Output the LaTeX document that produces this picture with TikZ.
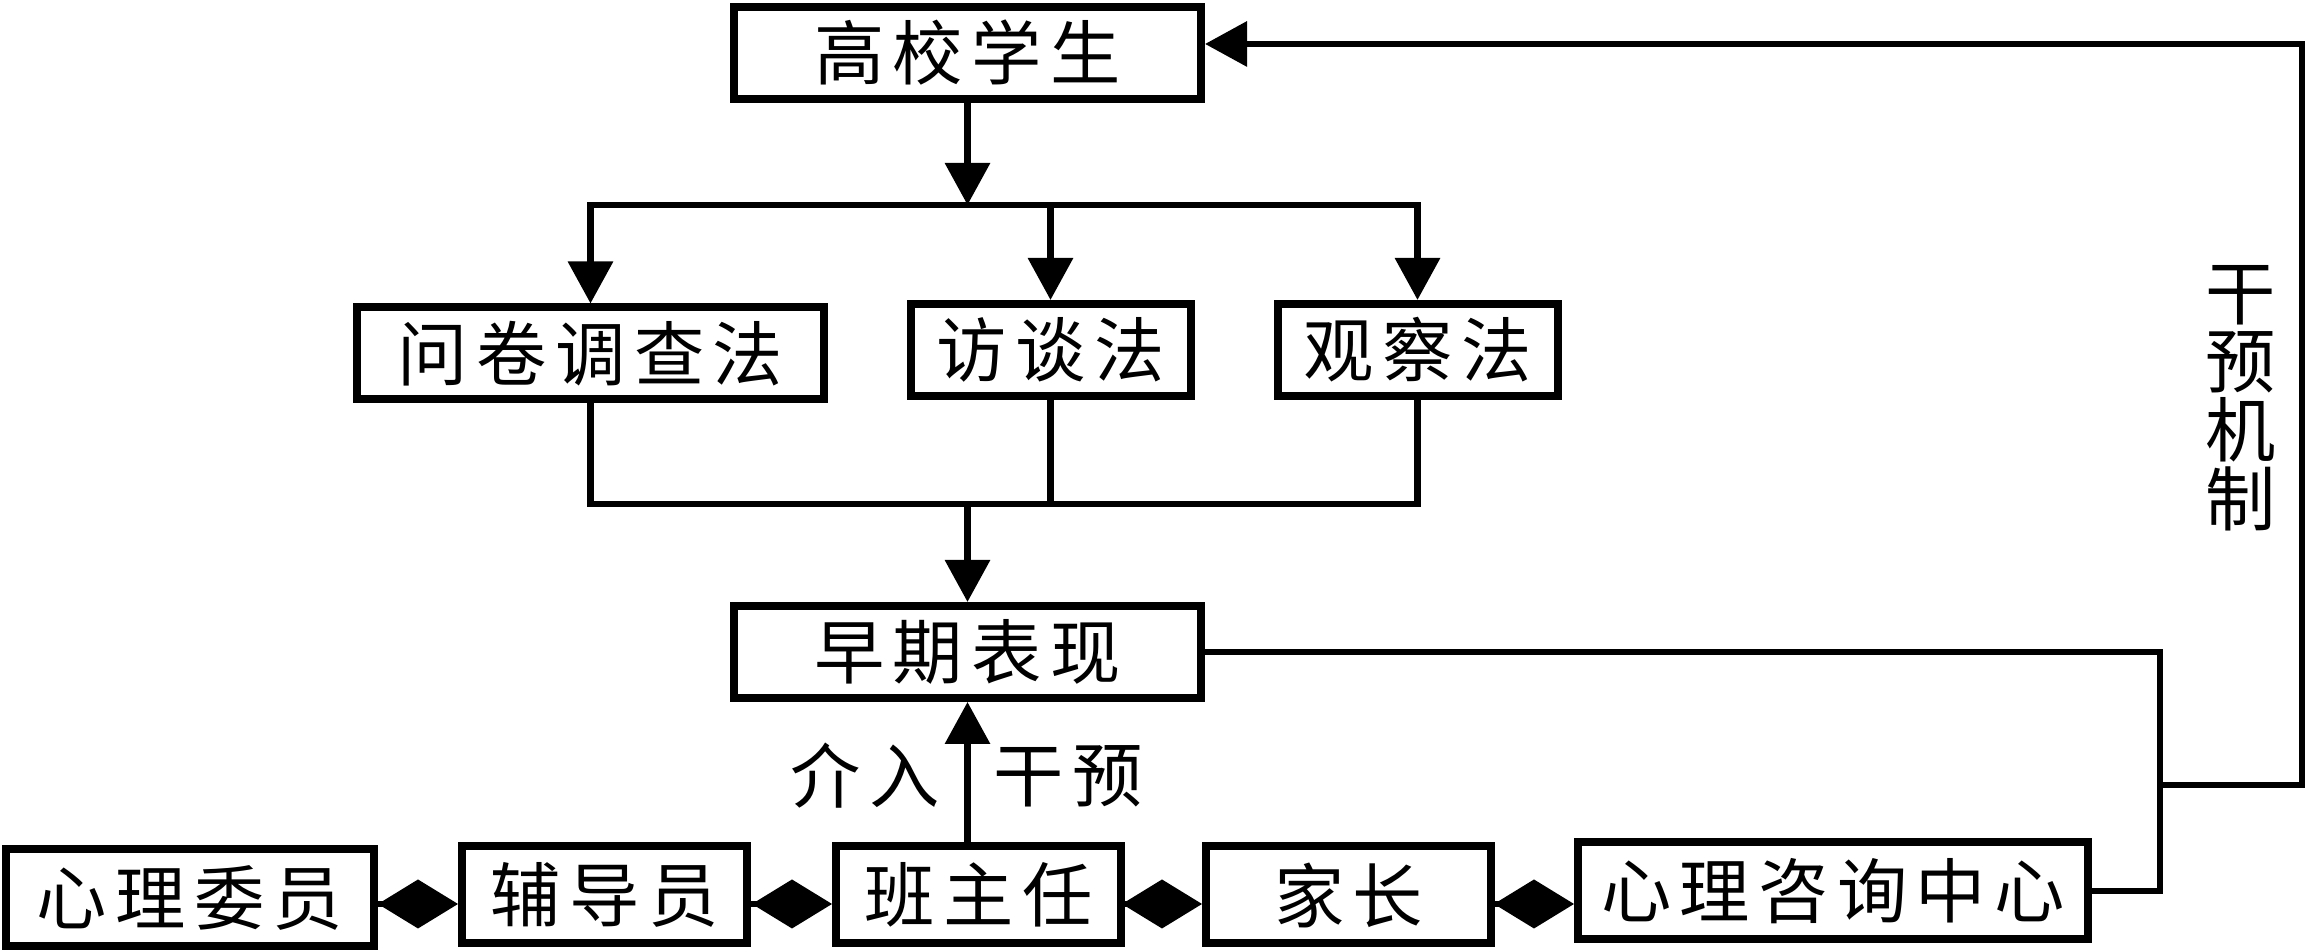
\documentclass[tikz,border=0pt]{standalone}
\usepackage{fontspec}
\newfontfamily\cjk[LetterSpace=12]{Noto Sans CJK SC}
\usepackage{tikz}
\usetikzlibrary{arrows.meta,positioning,calc}

\begin{document}
\begin{tikzpicture}[
  bx/.style={draw,line width=0.08cm,inner sep=0pt,font=\cjk\fontsize{20}{24}\selectfont},
  wd/.style={bx,minimum width=4.67cm,minimum height=0.92cm},
  nr/.style={bx,minimum width=2.8cm,minimum height=0.92cm},
  lo/.style={bx,minimum width=2.85cm,minimum height=0.97cm},
  ln/.style={line width=0.065cm,line cap=rect},
  ar/.style={ln,-{Triangle[length=4.2mm,width=4.4mm]}},
  dm/.style={ln,-{Diamond[length=8mm,width=4.9mm]}},
  lb/.style={font=\cjk\fontsize{20}{19.5}\selectfont,align=center,inner sep=0pt}
]
\useasboundingbox (0,0) rectangle (23.09,9.51);
%--- top: students and the three methods ---
\node[wd] (stu) at (9.675,8.98) {高校学生};
\node[wd] (wj) at (5.905,5.975) {问卷调查法};
\node[nr] (ft) at (10.505,6.01) {访谈法};
\node[nr] (gc) at (14.175,6.01) {观察法};
\coordinate (t1) at (9.675,7.46);
\draw[ar] (stu) -- (t1);
\draw[ln] (wj |- t1) -- (gc |- t1);
\foreach \n in {wj,ft,gc} \draw[ar] (\n |- t1) -- (\n);
%--- middle: early signs ---
\node[wd] (zq) at (9.675,2.99) {早期表现};
\coordinate (b1) at (9.675,4.47);
\foreach \n in {wj,ft,gc} \draw[ln] (\n) -- (\n |- b1);
\draw[ln] (wj |- b1) -- (gc |- b1);
\draw[ar] (b1) -- (zq);
%--- bottom row ---
\node[lo,minimum width=3.68cm] (xw) at (1.9,0.53) {心理委员};
\node[lo] (fd) at (6.045,0.56) {辅导员};
\node[lo] (bzr) at (9.785,0.56) {班主任};
\node[lo] (jz) at (13.485,0.56) {家长};
\node[lo,minimum width=5.1cm] (zx) at (18.33,0.60) {心理咨询中心};
\coordinate (dy) at (0,0.47);
\foreach \a/\b in {xw/fd,fd/bzr,bzr/jz,jz/zx}
  \draw[dm] (\a.east |- dy) -- (\b.west |- dy);
\draw[ar] (zq.south |- bzr.north) -- (zq.south);
\node[lb] (jr) at (8.65,1.75) {介入};
\node[lb] (gy) at (10.68,1.75) {干预};
%--- right: feedback loop ---
\coordinate (r1) at (21.60,1.66);
\coordinate (r2) at (23.02,9.07);
\draw[ln] (zq.east) -| (r1) |- (zx.east);
\draw[ar] (r1) -| (r2) -- (stu.east |- r2);
\node[lb] (gyjz) at (22.41,5.53) {干\\预\\机\\制};
\end{tikzpicture}
\end{document}
